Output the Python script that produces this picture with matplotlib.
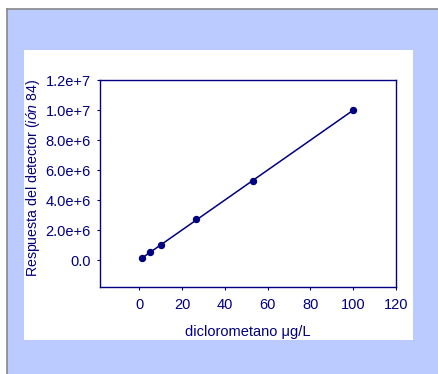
import numpy as np
import matplotlib
matplotlib.use("Agg")
import matplotlib.pyplot as plt
from matplotlib.patches import Rectangle

plt.rcParams['font.family'] = ['Liberation Sans', 'DejaVu Sans']
plt.rcParams['mathtext.fontset'] = 'custom'
plt.rcParams['mathtext.rm'] = 'Liberation Sans'
plt.rcParams['mathtext.it'] = 'Liberation Sans:italic'

conc = [1.1, 5.2, 10.3, 26.5, 53.2, 100.0]
response = [0.11e6, 0.53e6, 1.0e6, 2.75e6, 5.25e6, 10.0e6]
xticks = [0, 20, 40, 60, 80, 100, 120]
yticks = [0, 2e6, 4e6, 6e6, 8e6, 10e6, 12e6]
ytick_labels = ['0.0', '2.0e+6', '4.0e+6', '6.0e+6', '8.0e+6', '1.0e+7', '1.2e+7']

navy = '#000080'
W, H = 439, 374
fig = plt.figure(figsize=(W / 100, H / 100), dpi=100)
fig.patch.set_facecolor('white')

# outer blue background with gray border
fig.add_artist(Rectangle((7 / W, 0), 1 - 7 / W, 1 - 9 / H, transform=fig.transFigure,
                         facecolor='#BBCBFF', edgecolor='none', zorder=-3))
fig.add_artist(plt.Line2D([7 / W, 1], [1 - 9 / H, 1 - 9 / H], transform=fig.transFigure,
                          color='#888888', lw=1.2, zorder=-2))
fig.add_artist(plt.Line2D([7 / W, 7 / W], [0, 1 - 9 / H], transform=fig.transFigure,
                          color='#888888', lw=1.2, zorder=-2))
# white panel
fig.add_artist(Rectangle((24 / W, 1 - 340 / H), (413 - 24) / W, (340 - 50) / H,
                         transform=fig.transFigure, facecolor='white', edgecolor='none', zorder=-1))

ax = fig.add_axes([100 / W, 1 - 287 / H, (396 - 100) / W, (287 - 80) / H])
ax.set_facecolor('white')
ax.patch.set_alpha(0)

x = np.array(conc)
y = np.array(response)
m, b = np.polyfit(x, y, 1)
xx = np.array([x.min(), x.max()])
ax.plot(xx, m * xx + b, color=navy, lw=1.1)
ax.plot(x, y, 'o', color=navy, ms=4.3)

ax.set_xlim(-18.4, 120)
ax.set_ylim(-1.8e6, 1.2e7)
ax.set_xticks(xticks)
ax.set_xticklabels([str(t) for t in xticks])
ax.set_yticks(yticks)
ax.set_yticklabels(ytick_labels)
for s in ax.spines.values():
    s.set_color(navy)
    s.set_linewidth(1.0)
ax.tick_params(colors=navy, labelsize=10.5, length=2.5, width=0.8, direction='out')
ax.tick_params(axis='x', pad=5.5)
ax.tick_params(axis='y', pad=4)
ax.set_xlabel('diclorometano \u03bcg/L', color=navy, fontsize=10.5, labelpad=9)
ax.set_ylabel(r'Respuesta del detector ($\mathit{ión\ 84}$)', color=navy, fontsize=10.2)
ax.yaxis.set_label_coords((42 - 100) / 296, (287 - 178) / 207)

fig.savefig('out.png', dpi=100)
